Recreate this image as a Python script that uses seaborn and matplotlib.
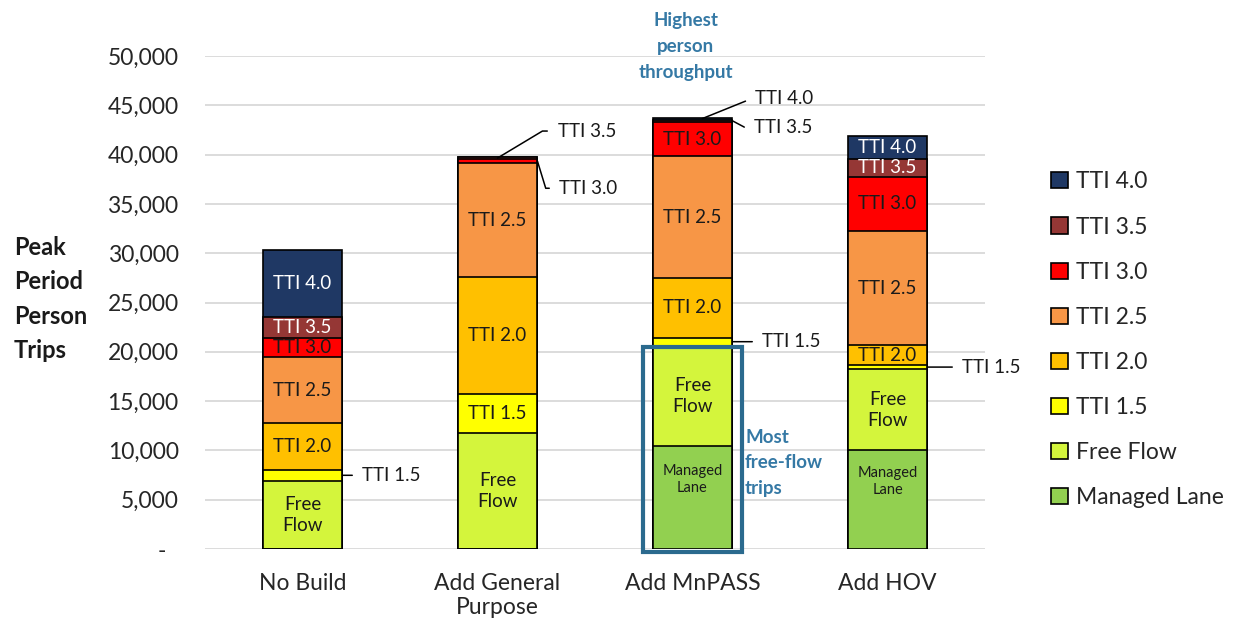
"""Peak period person trips by scenario — stacked TTI bars."""

import matplotlib

matplotlib.use("Agg")

import matplotlib.pyplot as plt
import pandas as pd
import seaborn as sns
from matplotlib.patches import Patch, Rectangle
from matplotlib.ticker import FuncFormatter

scenarios = ["No Build", "Add General\nPurpose", "Add MnPASS", "Add HOV"]
layers = ["Managed Lane", "Free Flow", "TTI 1.5", "TTI 2.0",
          "TTI 2.5", "TTI 3.0", "TTI 3.5", "TTI 4.0"]

managed_lane = [0, 0, 10400, 10000]
free_flow = [6900, 11800, 10200, 8250]
tti_15 = [1150, 3950, 850, 400]
tti_20 = [4700, 11800, 6000, 2000]
tti_25 = [6700, 11550, 12400, 11600]
tti_30 = [2000, 450, 3450, 5500]
tti_35 = [2100, 200, 250, 1850]
tti_40 = [6800, 0, 200, 2300]

colors = {
    "TTI 4.0": "#1F3864",
    "TTI 3.5": "#953735",
    "TTI 3.0": "#FF0000",
    "TTI 2.5": "#F79646",
    "TTI 2.0": "#FFC000",
    "TTI 1.5": "#FFFF00",
    "Free Flow": "#D4F53C",
    "Managed Lane": "#92D050",
}
BLUE = "#3579A5"

values = [managed_lane, free_flow, tti_15, tti_20, tti_25, tti_30, tti_35, tti_40]
rows = []
for i, sc in enumerate(scenarios):
    bottom = 0
    for layer, vals in zip(layers, values):
        rows.append(dict(scenario=sc, idx=i, layer=layer, value=vals[i],
                         bottom=bottom, top=bottom + vals[i]))
        bottom += vals[i]
df = pd.DataFrame(rows)

sns.set_style("white")
plt.rcParams["font.family"] = ["Lato", "DejaVu Sans"]

fig = plt.figure(figsize=(12.37, 6.25), dpi=100)
ax = fig.add_axes([205 / 1237, 1 - 549 / 625, 780 / 1237, 493 / 625])

BAR_W = 0.41
# stacked bars: draw cumulative totals from the top layer downwards
for layer in reversed(layers):
    sub = df[df["layer"] == layer]
    sns.barplot(data=sub, x="scenario", y="top", order=scenarios,
                color=colors[layer], saturation=1, edgecolor="black",
                linewidth=1.2, width=BAR_W, errorbar=None, ax=ax)

ax.set_xlim(-0.5, 3.5)
ax.set_ylim(0, 50000)
ax.set_yticks(range(0, 50001, 5000))
ax.yaxis.set_major_formatter(FuncFormatter(lambda v, p: "-  " if v == 0 else f"{v:,.0f}"))
ax.set_axisbelow(True)
ax.yaxis.grid(True, color="#D9D9D9", lw=1.3)
sns.despine(ax=ax, left=True, bottom=True)
ax.tick_params(axis="y", length=0, pad=19, labelsize=16.5, colors="#262626")
ax.tick_params(axis="x", length=0, pad=17, labelsize=16.5, colors="#262626")
ax.set_xlabel("")
ax.set_ylabel("")

fig.text(14 / 1237, 1 - 299 / 625, "Peak\nPeriod\nPerson\nTrips", ha="left", va="center",
         fontsize=17, fontweight="bold", linespacing=1.58, color="#1a1a1a")

# labels inside segments
for r in df.itertuples():
    if r.value < 1200:
        continue
    mid = r.bottom + r.value / 2
    txt, fs, dy = r.layer, 13.5, 0
    if r.layer == "Free Flow":
        txt = "Free\nFlow"
    elif r.layer == "Managed Lane":
        txt, fs, dy = "Managed\nLane", 10.5, 18
    col = "white" if r.layer in ("TTI 4.0", "TTI 3.5") else "#1a1a1a"
    ax.annotate(txt, (r.idx, mid), xytext=(0, dy * 0.72), textcoords="offset points",
                ha="center", va="center", fontsize=fs, color=col, linespacing=1.3)

# leader-line labels for thin segments: (dx px, dy px, anchor x offset, angle)
outside = {
    (0, "TTI 1.5"): (20, 0, BAR_W / 2, None),
    (1, "TTI 3.5"): (60, 27, 0.0, 31),
    (1, "TTI 3.0"): (22, -27, BAR_W / 2, -73),
    (2, "TTI 4.0"): (53, 20, 0.05, 22),
    (2, "TTI 3.5"): (22, -7, BAR_W / 2, -28),
    (2, "TTI 1.5"): (30, 0, BAR_W / 2, None),
    (3, "TTI 1.5"): (35, 0, BAR_W / 2, None),
}
for (i, layer), (dx, dy, ax_off, ang) in outside.items():
    r = df[(df["idx"] == i) & (df["layer"] == layer)].iloc[0]
    mid = r["bottom"] + r["value"] / 2
    cs = "arc3" if ang is None else f"angle,angleA=0,angleB={ang},rad=0"
    ax.annotate(layer, (i + ax_off, mid), xytext=(dx * 0.72, dy * 0.72),
                textcoords="offset points", ha="left", va="center", fontsize=13.5,
                color="#1a1a1a", annotation_clip=False,
                arrowprops=dict(arrowstyle="-", color="black", lw=1.1,
                                shrinkA=5, shrinkB=0, connectionstyle=cs))

# highlight box around MnPASS free-flow trips
mn = df[df["idx"] == 2].set_index("layer")
box_top = mn.loc["Free Flow", "top"]
ax.add_patch(Rectangle((2 - 0.255, -350), 0.51, box_top + 200, fill=False,
                       edgecolor="#2B6A8E", lw=3, clip_on=False, zorder=5))
ax.annotate("Most\nfree-flow\ntrips", (2 + 0.255, box_top / 2), xytext=(2, -11),
            textcoords="offset points", ha="left", va="center", fontsize=13.5,
            fontweight="bold", color=BLUE, linespacing=1.62)
ax.annotate("Highest\nperson\nthroughput", (2, mn["top"].max()), xytext=(-5, 51),
            textcoords="offset points", ha="center", va="center", fontsize=13.5,
            fontweight="bold", color=BLUE, linespacing=1.65, annotation_clip=False)

handles = [Patch(facecolor=colors[l], edgecolor="black", lw=1.2, label=l)
           for l in reversed(layers)]
fig.legend(handles=handles, loc="upper left", bbox_to_anchor=(1040 / 1237, 1 - 160 / 625),
           frameon=False, fontsize=16.5, labelspacing=1.05, handlelength=0.7,
           handleheight=0.7, handletextpad=0.35, borderpad=0, labelcolor="#262626")

fig.savefig("out.png", dpi=100)
